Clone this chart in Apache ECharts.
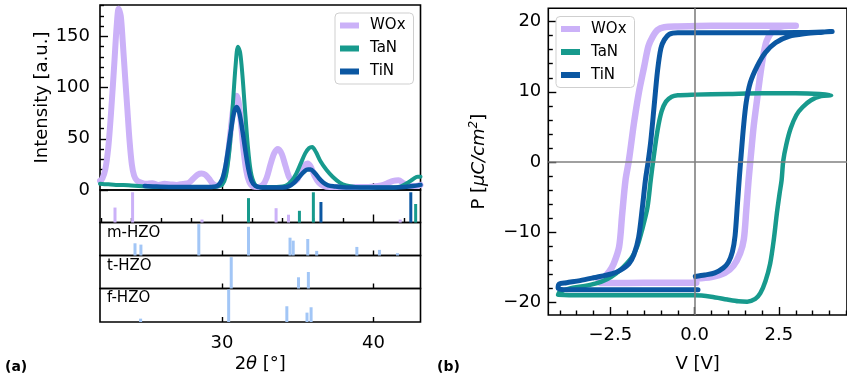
<!DOCTYPE html>
<html><head><meta charset="utf-8">
<script src="https://cdn.jsdelivr.net/npm/echarts@6/dist/echarts.min.js"></script>
<style>html,body{margin:0;padding:0;background:#fff}#c{width:847px;height:382px}</style>
</head><body><div id="c"></div>
<script>
// ---------- XRD data (2theta [deg], intensity [a.u.]) ----------
const xrdWOx = [[21.95,9],[22.1,11],[22.3,20],[22.5,42],[22.7,80],[22.9,125],[23.05,160],[23.18,177],[23.32,170],[23.45,145],[23.6,112],[23.75,80],[23.9,48],[24.05,25],[24.2,14],[24.4,9],[24.7,7],[25.0,6],[25.4,6.5],[25.8,5],[26.2,6],[26.6,5.5],[27.0,5],[27.4,6],[27.8,7],[28.1,11],[28.4,15],[28.65,16],[28.9,15],[29.15,11],[29.4,6],[29.7,4],[30.0,7],[30.25,20],[30.5,48],[30.7,75],[30.85,88],[30.97,92],[31.1,86],[31.25,66],[31.4,42],[31.6,19],[31.8,8],[32.05,3.5],[32.4,3],[32.7,5],[32.95,12],[33.2,25],[33.45,36],[33.7,40],[33.95,35],[34.2,23],[34.45,12],[34.7,8],[34.95,10],[35.2,17],[35.45,24],[35.65,26],[35.85,23],[36.1,14],[36.4,7],[36.7,4],[37.1,3],[37.6,3],[38.2,3],[38.8,3],[39.4,3],[40.0,3.5],[40.5,4.5],[40.9,6.5],[41.3,9],[41.65,9.5],[42.0,6.5],[42.4,4],[42.8,4],[43.1,5]];
const xrdTaN = [[21.95,6],[22.5,5.5],[23.0,5],[23.5,5],[24.0,4.5],[24.5,4],[25.0,3.5],[25.5,3],[26.5,3],[27.5,3],[28.5,3],[29.3,3],[29.7,3.5],[30.0,5],[30.25,13],[30.5,40],[30.7,80],[30.9,122],[31.05,140],[31.2,134],[31.35,112],[31.5,82],[31.7,44],[31.9,18],[32.15,6],[32.45,3],[33.0,3],[33.6,3],[34.0,3.5],[34.3,5],[34.6,9],[34.9,16],[35.2,26],[35.5,36],[35.75,41],[35.95,42],[36.2,37],[36.5,28],[36.9,19.5],[37.3,13],[37.75,7.5],[38.2,4.5],[38.8,3],[39.5,2.5],[40.5,2.5],[41.3,2.5],[41.8,3.5],[42.2,6.5],[42.6,10.5],[42.9,13],[43.1,13]];
const xrdTiN = [[24.9,4],[25.5,3.5],[26.5,3],[27.5,3],[28.5,3],[29.3,3],[29.7,4],[30.0,10],[30.2,21],[30.4,39],[30.6,59],[30.8,76],[30.97,81],[31.15,75],[31.35,58],[31.55,38],[31.75,20],[31.95,9],[32.2,4],[32.6,2.5],[33.3,2.5],[34.0,2.5],[34.4,3.5],[34.75,7],[35.05,12],[35.35,17],[35.65,20],[35.85,20],[36.1,17],[36.4,11.5],[36.7,7],[37.0,4.5],[37.4,3.5],[38.2,2.5],[39.5,2.5],[41.0,2.5],[42.0,3],[42.6,4],[43.1,5]];

// ---------- reference sticks (2theta, relative height %) ----------
const refWOx = [[22.94,46],[24.1,93],[28.68,9],[33.57,44],[34.39,24],[41.76,9]];
const refTaN = [[31.75,75],[35.11,36],[36.03,93],[42.78,57]];
const refTiN = [[36.53,63],[42.46,93]];
const refMHZO = [[24.26,37],[24.65,33],[28.47,95],[31.75,87],[34.49,54],[34.7,45],[35.66,50],[36.25,14],[38.9,26],[40.39,17],[41.58,7]];
const refTHZO = [[30.61,95],[35.05,34],[35.7,50]];
const refFHZO = [[24.63,10],[30.44,97],[34.28,47],[35.61,28],[35.88,44]];
const refNames = ['m-HZO','t-HZO','f-HZO'];

// ---------- P-V loops (V [V], P [uC/cm2]) ----------
const peWOx = [[0.05,-16.6],[0.5,-16.4],[0.9,-15.8],[1.15,-14.8],[1.35,-13],[1.46,-11],[1.53,-7],[1.6,-2.6],[1.67,1],[1.75,5],[1.85,8.8],[1.95,12.5],[2.05,15.5],[2.14,17.3],[2.3,18.6],[2.5,19.2],[2.8,19.4],[3.0,19.4],[2.5,19.4],[1.5,19.4],[0.5,19.4],[-0.5,19.3],[-0.9,19.2],[-1.1,18.8],[-1.25,17.8],[-1.37,16.5],[-1.5,13.5],[-1.65,10],[-1.8,5.5],[-1.95,0.2],[-2.05,-2.6],[-2.15,-7.5],[-2.24,-12.1],[-2.4,-14.5],[-2.53,-15.6],[-2.7,-16.5],[-2.85,-17.0],[-2.8,-17.25],[-2.5,-17.25],[-1.5,-17.2],[-0.5,-17.2],[0.05,-17.2]];
const peTaN = [[-4.05,-18.9],[-3.5,-19.0],[-2.5,-19.0],[-1.5,-19.0],[-0.5,-19.0],[0,-19.0],[0.49,-19.2],[0.97,-19.6],[1.3,-19.85],[1.56,-19.9],[1.8,-19.5],[1.95,-18.7],[2.1,-17],[2.24,-14.5],[2.35,-11],[2.44,-7.3],[2.52,-4.5],[2.58,-2.6],[2.63,0.2],[2.72,2.5],[2.85,4.8],[3.02,6.7],[3.2,7.8],[3.45,8.8],[3.75,9.4],[4.05,9.5],[3.7,9.7],[3.0,9.8],[2.0,9.8],[1.0,9.7],[0,9.6],[-0.5,9.5],[-0.68,9.3],[-0.85,8.6],[-0.98,7.2],[-1.1,4.5],[-1.22,0.5],[-1.3,-2.5],[-1.4,-6.5],[-1.56,-9.7],[-1.7,-12],[-1.85,-13.5],[-2.1,-14.9],[-2.34,-15.9],[-2.6,-16.7],[-2.92,-17.3],[-3.3,-17.7],[-3.7,-18.0],[-4.0,-18.5],[-4.05,-18.9]];
const peTiN = [[0.02,-16.3],[0.3,-16.1],[0.6,-15.8],[0.85,-15.1],[1.0,-14.3],[1.12,-12.8],[1.2,-10.5],[1.27,-6],[1.33,-2],[1.38,1],[1.45,5],[1.53,8.5],[1.65,11.3],[1.85,13.6],[2.1,15.6],[2.4,17],[2.8,17.9],[3.3,18.3],[3.8,18.5],[4.08,18.6],[3.6,18.5],[3.0,18.45],[2.0,18.4],[1.0,18.4],[0,18.4],[-0.5,18.4],[-0.75,18.2],[-0.9,17.4],[-1.0,16.2],[-1.1,13],[-1.2,8],[-1.3,3],[-1.38,0],[-1.46,-2.6],[-1.55,-6.5],[-1.66,-10.7],[-1.8,-13.2],[-1.95,-14.5],[-2.2,-15.4],[-2.44,-15.9],[-3.0,-16.5],[-3.4,-16.9],[-3.8,-17.2],[-4.02,-17.4],[-4.05,-18.0],[-3.8,-18.2],[-3,-18.2],[-2,-18.2],[-1,-18.2],[0.1,-18.2]];

// ---------- tick values ----------
const xrdMajorTicks = [30,40];
const xrdMinorTicks = [22,24,26,28,32,34,36,38,42];
const intMajorTicks = [0,50,100,150];
const intMinorTicks = [10,20,30,40,60,70,80,90,110,120,130,140,160,170,180];
const vMajorTicks = [-2.5,0,2.5];
const vMinorTicks = [-4,-3.5,-3,-2,-1.5,-1,-0.5,0.5,1,1.5,2,3,3.5,4,4.5];
const pMajorTicks = [-20,-10,0,10,20];
const pMinorTicks = [-18,-16,-14,-12,-8,-6,-4,-2,2,4,6,8,12,14,16,18];

// ---------- styles ----------
const FONT = 'DejaVu Sans';
const C_WOX = '#cbb1f8', C_TAN = '#179a8d', C_TIN = '#0b57a2', C_HZO = '#a2c6f6';
const minus = s => String(s).replace('-', '\u2212');

const chart = echarts.init(document.getElementById('c'), null, {renderer:'canvas'});

const gridBox = (o) => Object.assign({show:true, borderColor:'#000', borderWidth:1.6, backgroundColor:'transparent', containLabel:false}, o);
const tickStyle = {color:'#000', width:1.4};
const xAx = (grid, min, max, ticks, len, extra) => Object.assign({
  type:'value', gridIndex:grid, min:min, max:max, position:'bottom',
  axisLine:{show:false, onZero:false}, splitLine:{show:false},
  axisTick:{show:true, inside:true, length:len, customValues:ticks, lineStyle:tickStyle},
  axisLabel:{show:false}
}, extra||{});
const yAx = (grid, min, max, ticks, len, extra) => Object.assign({
  type:'value', gridIndex:grid, min:min, max:max, position:'left',
  axisLine:{show:false, onZero:false}, splitLine:{show:false},
  axisTick:{show:true, inside:true, length:len, customValues:ticks, lineStyle:tickStyle},
  axisLabel:{show:false}
}, extra||{});
const lbl = (vals, margin, fmt) => ({show:true, customValues:vals, margin:margin, fontSize:18, color:'#000', fontFamily:FONT, formatter:fmt});

const XMIN = 21.95, XMAX = 43.1;

const stickData = [].concat(
  refWOx.map(d => ({value:d, itemStyle:{color:C_WOX}})),
  refTaN.map(d => ({value:d, itemStyle:{color:C_TAN}})),
  refTiN.map(d => ({value:d, itemStyle:{color:C_TIN}}))
);

const lineSeries = (name, data, color, width, xi, yi, z) => ({
  name:name, type:'line', data:data, xAxisIndex:xi, yAxisIndex:yi, z:z,
  showSymbol:false, smooth:0.3, animation:false,
  itemStyle:{color:color},
  lineStyle:{color:color, width:width, cap:'round', join:'round'}
});
const barSeries = (data, xi, yi) => ({
  type:'bar', data:data, xAxisIndex:xi, yAxisIndex:yi, barWidth:3,
  itemStyle:{color:C_HZO}, animation:false, silent:true
});

const legendCommon = {
  orient:'vertical', icon:'rect', itemWidth:19, itemHeight:6, itemGap:8,
  padding:[5,8,5,5], borderColor:'#cfcfcf', borderWidth:1, borderRadius:4,
  backgroundColor:'rgba(255,255,255,0.85)',
  textStyle:{fontSize:15, fontFamily:FONT, color:'#000', padding:[0,0,0,6]},
  data:['WOx','TaN','TiN'], selectedMode:false
};

const option = {
  animation:false,
  textStyle:{fontFamily:FONT},
  grid:[
    gridBox({left:100, top:5, width:320.5, height:185}),
    gridBox({left:100, top:190, width:320.5, height:32.5}),
    gridBox({left:100, top:222.5, width:320.5, height:33}),
    gridBox({left:100, top:255.5, width:320.5, height:33}),
    gridBox({left:100, top:288.5, width:320.5, height:33.5}),
    gridBox({left:548.3, top:8.3, width:303, height:306.7})
  ],
  xAxis:[
    xAx(0, XMIN, XMAX, xrdMajorTicks, 7),
    xAx(1, XMIN, XMAX, xrdMajorTicks, 8),
    xAx(1, XMIN, XMAX, xrdMinorTicks, 4.5),
    xAx(2, XMIN, XMAX, xrdMajorTicks, 5),
    xAx(3, XMIN, XMAX, xrdMajorTicks, 5),
    xAx(4, XMIN, XMAX, xrdMajorTicks, 5, {
      axisLabel: lbl(xrdMajorTicks, 12, v => String(v)),
      name:'2{it|\u03b8} [\u00b0]', nameLocation:'middle', nameGap:33,
      nameTextStyle:{fontSize:18, fontFamily:FONT, color:'#000', rich:{it:{fontSize:18, fontStyle:'italic', fontFamily:FONT, color:'#000'}}}
    }),
    xAx(5, -4.34, 4.52, vMajorTicks, 8, {
      axisLabel: lbl(vMajorTicks, 11, v => minus(Number(v).toFixed(1))),
      name:'V [V]', nameLocation:'middle', nameGap:40,
      nameTextStyle:{fontSize:18, fontFamily:FONT, color:'#000'}
    }),
    xAx(5, -4.34, 4.52, vMinorTicks, 4.5)
  ],
  yAxis:[
    yAx(0, 0, 180.7, intMajorTicks, 8, {
      axisLabel: lbl(intMajorTicks, 10, v => String(v)),
      name:'Intensity [a.u.]', nameLocation:'middle', nameGap:46, nameRotate:90,
      nameTextStyle:{fontSize:18, fontFamily:FONT, color:'#000'}
    }),
    yAx(0, 0, 180.7, intMinorTicks, 4),
    {type:'value', gridIndex:1, min:0, max:100, show:false},
    {type:'value', gridIndex:2, min:0, max:100, show:false},
    {type:'value', gridIndex:3, min:0, max:100, show:false},
    {type:'value', gridIndex:4, min:0, max:100, show:false},
    yAx(5, -21.8, 21.9, pMajorTicks, 8, {
      axisLabel: lbl(pMajorTicks, 7, v => minus(v)),
      name:'P [{it|\u03bcC/cm}{sup|2}]', nameLocation:'middle', nameGap:58, nameRotate:90,
      nameTextStyle:{fontSize:18, fontFamily:FONT, color:'#000',
        rich:{it:{fontSize:18, fontStyle:'italic', fontFamily:FONT, color:'#000'},
              sup:{fontSize:12, fontStyle:'italic', fontFamily:FONT, color:'#000', verticalAlign:'top', lineHeight:22}}}
    }),
    yAx(5, -21.8, 21.9, pMinorTicks, 4.5)
  ],
  legend:[
    Object.assign({}, legendCommon, {left:335, top:13}),
    Object.assign({}, legendCommon, {left:556, top:16.5})
  ],
  series:[
    lineSeries('WOx', xrdWOx, C_WOX, 6, 0, 0, 2),
    lineSeries('TaN', xrdTaN, C_TAN, 4, 0, 0, 3),
    lineSeries('TiN', xrdTiN, C_TIN, 4.5, 0, 0, 4),
    barSeries(stickData, 1, 2),
    barSeries(refMHZO, 3, 3),
    barSeries(refTHZO, 4, 4),
    barSeries(refFHZO, 5, 5),
    {type:'line', xAxisIndex:6, yAxisIndex:6, data:[[0,0]], showSymbol:false, lineStyle:{width:0}, z:1, silent:true,
     markLine:{silent:true, symbol:'none', label:{show:false}, animation:false,
       lineStyle:{color:'#808080', width:1.6, type:'solid'},
       data:[{xAxis:0},{yAxis:0}]}},
    lineSeries('WOx', peWOx, C_WOX, 6.5, 6, 6, 2),
    lineSeries('TaN', peTaN, C_TAN, 4.5, 6, 6, 3),
    lineSeries('TiN', peTiN, C_TIN, 5, 6, 6, 4)
  ],
  graphic:[
    {type:'text', left:5, top:360, style:{text:'(a)', font:'bold 14px "DejaVu Sans"', fill:'#000'}},
    {type:'text', left:437, top:360, style:{text:'(b)', font:'bold 14px "DejaVu Sans"', fill:'#000'}},
    {type:'text', left:107, top:226, style:{text:refNames[0], font:'15px "DejaVu Sans"', fill:'#000'}},
    {type:'text', left:107, top:259, style:{text:refNames[1], font:'15px "DejaVu Sans"', fill:'#000'}},
    {type:'text', left:107, top:291, style:{text:refNames[2], font:'15px "DejaVu Sans"', fill:'#000'}}
  ]
};
chart.setOption(option);
</script>
</body></html>
